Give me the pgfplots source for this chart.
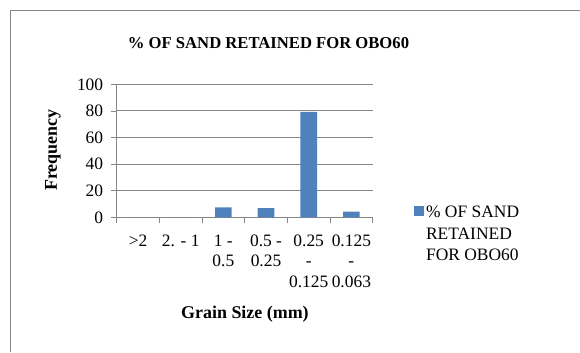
\documentclass[border=0pt]{standalone}
\usepackage{pgfplots}
\pgfplotsset{compat=1.18}
\usepackage{fontspec}
\setmainfont{Liberation Serif}
\definecolor{barblue}{HTML}{4F81BD}
\definecolor{gridgray}{HTML}{868686}
\begin{document}
\begin{tikzpicture}[x=1bp,y=1bp]
\begin{axis}[
  at={(116.7bp,134.7bp)}, anchor=south west,
  scale only axis,
  width=256bp, height=132.9bp,
  xmin=-0.5, xmax=5.5, ymin=0, ymax=100,
  ytick={0,20,...,100},
  xtick={0,1,2,3,4,5},
  xticklabels={{>2},{2. - 1},{1 -\\0.5},{0.5 -\\0.25},{0.25\\-\\0.125},{0.125\\-\\0.063}},
  minor xtick={-0.5,0.5,...,5.5},
  major x tick style={draw=none},
  minor tick length=6bp,
  major tick length=6bp,
  tick align=outside,
  tick style={gridgray, line width=0.8bp},
  axis x line*=bottom, axis y line*=left,
  axis line style={gridgray, line width=1bp, -},
  ymajorgrids,
  major grid style={gridgray, line width=1bp},
  /pgf/number format/assume math mode=true,
  tick label style={font=\fontsize{17.5}{20.5}\selectfont},
  xticklabel style={align=center, anchor=north, yshift=-8bp},
  yticklabel style={xshift=-4bp},
  ybar, bar width=16.7bp,
  title={\% OF SAND RETAINED FOR OBO60},
  title style={font=\fontsize{16.7}{20}\selectfont\bfseries, at={(rel axis cs:0.593,1.32)}, anchor=center, yshift=-7bp},
  xlabel={Grain Size (mm)},
  xlabel style={font=\fontsize{18}{21}\selectfont\bfseries, at={(rel axis cs:0.501,-0.728)}, anchor=center},
  ylabel={Frequency},
  ylabel style={font=\fontsize{18}{21}\selectfont\bfseries, at={(rel axis cs:-0.249,0.506)}, anchor=center},
  legend style={at={(rel axis cs:1.161,0.10)}, anchor=north west, draw=none, fill=none,
    font=\fontsize{17.5}{21.5}\selectfont, cells={align=left}, inner sep=0pt},
  legend image code/.code={\fill[#1] (0bp,18.5bp) rectangle (10bp,28.5bp);},
]
\addplot[fill=barblue, draw=none] coordinates {(0,0) (1,0) (2,7.5) (3,7.0) (4,79.4) (5,4.2)};
\addlegendentry{\% OF SAND\\RETAINED\\FOR OBO60}
\end{axis}
\draw[gridgray, line width=1.2bp] (10.5,0) -- (10.5,341.5) -- (580,341.5);
\pgfresetboundingbox
\useasboundingbox (0,0) rectangle (580,352);
\end{tikzpicture}
\end{document}
